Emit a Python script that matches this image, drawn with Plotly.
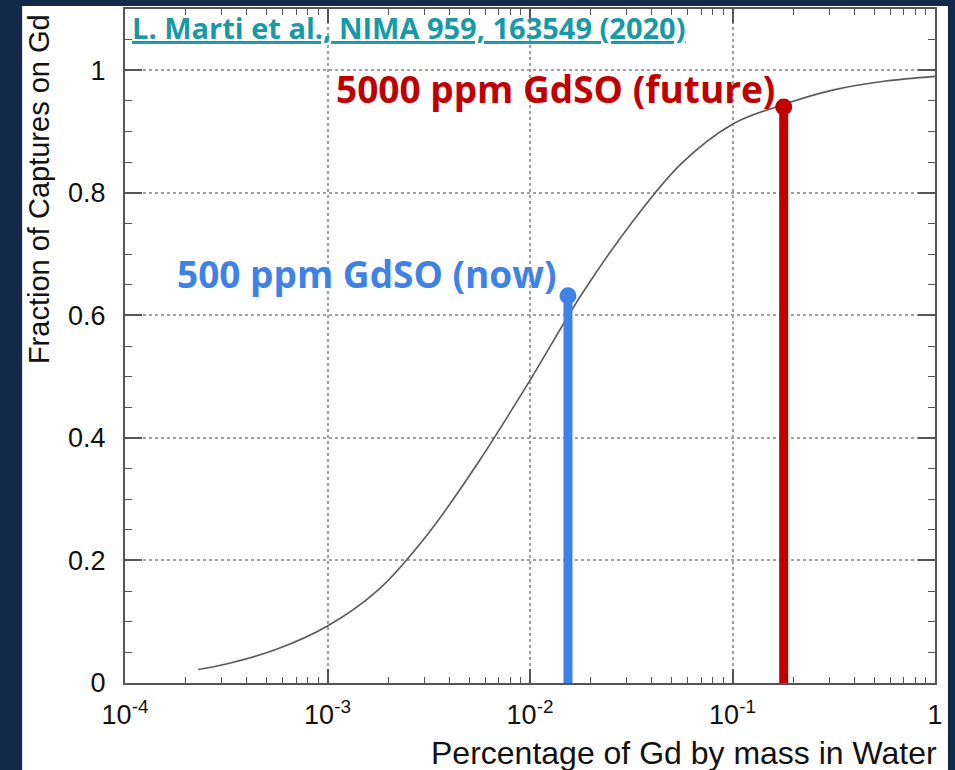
import plotly.graph_objects as go

# Gd capture fraction vs Gd mass percentage
gd_percent = [2.3e-4, 3.16e-4, 5.6e-4, 1e-3, 1.78e-3, 3.16e-3, 5.6e-3, 1e-2,
              1.78e-2, 3.16e-2, 5.6e-2, 0.1, 0.178, 0.316, 0.562, 1.0]
capture_frac = [0.022, 0.031, 0.055, 0.093, 0.152, 0.245, 0.362, 0.494,
                0.632, 0.75, 0.848, 0.912, 0.944, 0.968, 0.982, 0.99]

# the two loading points marked on the figure
mark_x = [0.0154, 0.179]
mark_y = [0.632, 0.94]
mark_labels = ["500 ppm GdSO (now)", "5000 ppm GdSO (future)"]
mark_colors = ["#3f82e6", "#c00000"]

x_tickvals = [1e-4, 1e-3, 1e-2, 1e-1, 1]
x_ticktext = ["10<sup>-4</sup>", "10<sup>-3</sup>", "10<sup>-2</sup>", "10<sup>-1</sup>", "1"]
y_tickvals = [0, 0.2, 0.4, 0.6, 0.8, 1]
y_ticktext = ["0", "0.2", "0.4", "0.6", "0.8", "1"]

navy = "#12294a"
axis_col = "#555555"

fig = go.Figure()

fig.add_trace(go.Scatter(x=gd_percent, y=capture_frac, mode="lines",
                         line=dict(color="#5a5a5a", width=1.6, shape="spline"),
                         showlegend=False, hoverinfo="skip"))

for xv, yv, col in zip(mark_x, mark_y, mark_colors):
    fig.add_trace(go.Scatter(
        x=[xv], y=[yv], mode="markers", cliponaxis=False,
        marker=dict(color=col, size=17),
        error_y=dict(type="data", symmetric=False, array=[0], arrayminus=[yv + 0.012],
                     color=col, thickness=9, width=0),
        showlegend=False))

fig.update_xaxes(type="log", range=[-4, 0], automargin=False,
                 tickvals=x_tickvals, ticktext=x_ticktext,
                 tickfont=dict(family="Liberation Sans, Arial", size=27, color="#111"),
                 ticks="inside", ticklen=14, tickwidth=1.5, tickcolor=axis_col,
                 ticklabelstandoff=7,
                 minor=dict(ticks="inside", ticklen=6, tickwidth=1.2, tickcolor=axis_col,
                            dtick="D1", showgrid=False),
                 showline=True, linecolor=axis_col, linewidth=2, mirror="ticks",
                 showgrid=True, gridcolor="#a0a0a0", griddash="dot", gridwidth=1.5,
                 zeroline=False)

fig.update_yaxes(range=[0, 1.1], automargin=False,
                 tickvals=y_tickvals, ticktext=y_ticktext,
                 tickfont=dict(family="Liberation Sans, Arial", size=27, color="#111"),
                 ticks="inside", ticklen=17, tickwidth=1.5, tickcolor=axis_col,
                 ticklabelstandoff=12,
                 minor=dict(ticks="inside", ticklen=7, tickwidth=1.2, tickcolor=axis_col,
                            dtick=0.05, showgrid=False),
                 showline=True, linecolor=axis_col, linewidth=2, mirror="ticks",
                 showgrid=True, gridcolor="#a0a0a0", griddash="dot", gridwidth=1.5,
                 zeroline=False)

# white panel behind the figure on the navy slide
fig.add_shape(type="rect", xref="paper", yref="paper", x0=-0.127, x1=1.016,
              y0=-0.3, y1=1.0045, fillcolor="white", line=dict(width=0), layer="below")

fig.add_annotation(text="Fraction of Captures on Gd", xref="paper", yref="paper",
                   x=-0.106, y=0.733, textangle=-90, showarrow=False,
                   xanchor="center", yanchor="middle",
                   font=dict(family="Liberation Sans, Arial", size=29, color="#111"))
fig.add_annotation(text="Percentage of Gd by mass in Water", xref="paper", yref="paper",
                   x=1.005, y=-0.104, showarrow=False, xanchor="right", yanchor="middle",
                   font=dict(family="Liberation Sans, Arial", size=32, color="#111"))

fig.add_annotation(text="<u>L. Marti et al., NIMA 959, 163549 (2020)</u>",
                   xref="paper", yref="paper", x=0.006, y=0.972, showarrow=False,
                   xanchor="left", yanchor="middle",
                   font=dict(family="Open Sans", size=29, color="#1799a6", weight="bold"))

fig.add_annotation(text=mark_labels[0], x=-1.86, y=0.669, xref="x", yref="y",
                   showarrow=False, xanchor="right", yanchor="middle",
                   font=dict(family="Open Sans", size=37, color=mark_colors[0], weight="bold"))
fig.add_annotation(text=mark_labels[1], x=-0.78, y=0.971, xref="x", yref="y",
                   showarrow=False, xanchor="right", yanchor="middle",
                   font=dict(family="Open Sans", size=37, color=mark_colors[1], weight="bold"))

fig.update_layout(width=955, height=770,
                  margin=dict(l=125, r=20, t=9, b=87),
                  paper_bgcolor=navy, plot_bgcolor="rgba(0,0,0,0)")

# drop the browser's default body margin so the figure fills the window
fig.write_html("out.html", config={"displayModeBar": False},
               post_script="document.body.style.margin='0';")
